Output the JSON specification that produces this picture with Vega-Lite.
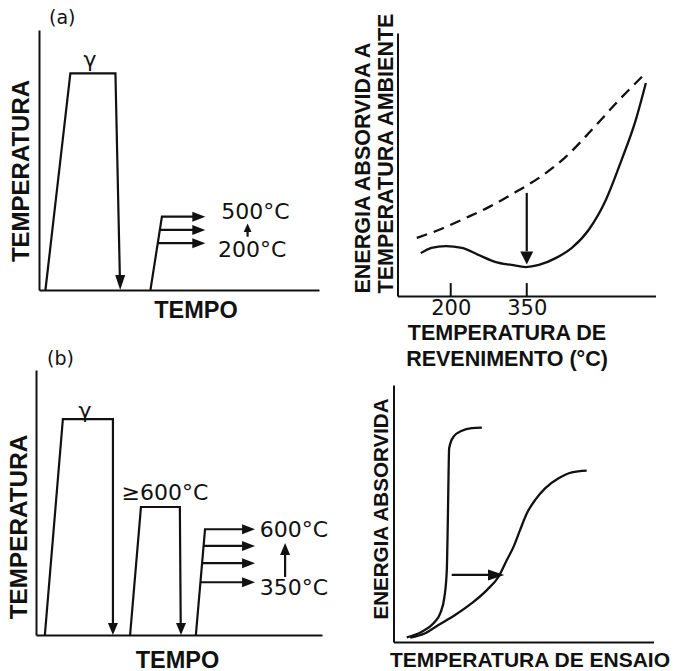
{
  "$schema": "https://vega.github.io/schema/vega-lite/v6.json",
  "background": "white",
  "autosize": {"type": "pad"},
  "padding": {"left": 7, "top": 9, "right": 0, "bottom": 0},
  "columns": 2,
  "spacing": {"row": -36, "column": 23.5},
  "resolve": {"scale": {"x": "independent", "y": "independent", "shape": "independent"}},
  "config": {
    "view": {"stroke": null},
    "axis": {
      "domainColor": "#111", "domainWidth": 2, "ticks": false, "labels": false, "grid": false,
      "titleFont": "Liberation Sans", "titleFontWeight": "bold", "titleColor": "#111"
    },
    "title": {"font": "DejaVu Sans", "fontSize": 19, "fontWeight": "normal", "anchor": "start", "frame": "group", "baseline": "middle", "color": "#111"},
    "text": {"font": "DejaVu Sans", "fontSize": 22, "color": "#111"}
  },
  "concat": [
    {
      "width": 286, "height": 266,
      "title": {"text": "(a)", "dx": 13, "offset": 2},
      "layer": [
        {
          "data": {"values": [
            {"s": "aus", "i": 0, "u": 2.3, "v": 0}, {"s": "aus", "i": 1, "u": 11.2, "v": 83.3},
            {"s": "aus", "i": 2, "u": 27.3, "v": 83.3}, {"s": "aus", "i": 3, "u": 28.9, "v": 4},
            {"s": "rev", "i": 0, "u": 39.8, "v": 0}, {"s": "rev", "i": 1, "u": 43.9, "v": 28.2}, {"s": "rev", "i": 2, "u": 57, "v": 28.2},
            {"s": "r2", "i": 0, "u": 43.2, "v": 23.1}, {"s": "r2", "i": 1, "u": 57, "v": 23.1},
            {"s": "r3", "i": 0, "u": 42.4, "v": 18.0}, {"s": "r3", "i": 1, "u": 57, "v": 18.0},
            {"s": "up", "i": 0, "u": 74.5, "v": 20.5}, {"s": "up", "i": 1, "u": 74.5, "v": 23.5}
          ]},
          "mark": {"type": "line", "color": "#111", "strokeWidth": 2.2},
          "encoding": {
            "x": {"field": "u", "type": "quantitative",
                  "scale": {"domain": [0, 100], "range": [3, 283], "nice": false, "zero": false},
                  "axis": {"title": "TEMPO", "offset": -6, "titleFontSize": 23.5, "titleBaseline": "middle", "titleAlign": "center", "titleX": 159.5, "titleY": 20}},
            "y": {"field": "v", "type": "quantitative",
                  "scale": {"domain": [0, 100], "range": [260, 0], "nice": false, "zero": false},
                  "axis": {"title": "TEMPERATURA", "offset": -3, "titleFontSize": 24, "titleBaseline": "middle", "titleAlign": "center", "titleX": -18, "titleY": 140.5}},
            "detail": {"field": "s"},
            "order": {"field": "i"}
          }
        },
        {
          "data": {"values": [
            {"dir": "down", "u": 29.0, "v": 0},
            {"dir": "right", "u": 59.4, "v": 28.2}, {"dir": "right", "u": 59.4, "v": 23.1}, {"dir": "right", "u": 59.4, "v": 18.0},
            {"dir": "up", "u": 74.5, "v": 25.6}
          ]},
          "mark": {"type": "point", "filled": true, "opacity": 1, "color": "#111", "size": 169},
          "encoding": {
            "x": {"field": "u", "type": "quantitative"},
            "y": {"field": "v", "type": "quantitative"},
            "shape": {"field": "dir", "type": "nominal", "legend": null,
                      "scale": {"domain": ["down", "right", "up"],
                                "range": ["M-0.77,-2.3L0.77,-2.3L0,0Z", "M-2,-0.77L0,0L-2,0.77Z", "M-0.6,1.3L0,0L0.6,1.3Z"]}}
          }
        },
        {
          "data": {"values": [
            {"label": "γ", "u": 18.2, "v": 88.5},
            {"label": "500°C", "u": 77.3, "v": 30.0},
            {"label": "200°C", "u": 76.1, "v": 15.4}
          ]},
          "mark": {"type": "text", "align": "center", "baseline": "middle"},
          "encoding": {
            "x": {"field": "u", "type": "quantitative"},
            "y": {"field": "v", "type": "quantitative"},
            "text": {"field": "label"}
          }
        }
      ]
    },
    {
      "width": 262, "height": 266,
      "layer": [
        {
          "data": {"values": [
            {"t": 133, "e": 22.1}, {"t": 176, "e": 25.1}, {"t": 230, "e": 29.7}, {"t": 275, "e": 33.8},
            {"t": 328, "e": 39.5}, {"t": 374, "e": 44.9}, {"t": 427, "e": 52.9}, {"t": 478, "e": 63.1},
            {"t": 532, "e": 74.5}, {"t": 587, "e": 85.2}
          ]},
          "mark": {"type": "line", "color": "#111", "strokeWidth": 2.3, "strokeDash": [11, 7], "interpolate": "monotone"},
          "encoding": {
            "x": {"field": "t", "type": "quantitative",
                  "scale": {"domain": [95, 604], "range": [4, 262], "nice": false, "zero": false},
                  "axis": {"title": ["TEMPERATURA DE", "REVENIMENTO (°C)"], "values": [200, 350], "format": "d",
                           "labels": true, "labelFont": "DejaVu Sans", "labelFontSize": 21, "labelColor": "#111", "labelPadding": 1,
                           "titleFontSize": 21.5, "titleLineHeight": 26, "titleBaseline": "middle", "titleAlign": "center", "titleX": 113, "titleY": 37}},
            "y": {"field": "e", "type": "quantitative",
                  "scale": {"domain": [0, 100], "range": [266, 3], "nice": false, "zero": false},
                  "axis": {"title": ["ENERGIA ABSORVIDA A", "TEMPERATURA AMBIENTE"], "offset": -4, "titleFontSize": 21.5, "titleLineHeight": 23,
                           "titleBaseline": "middle", "titleAlign": "left", "titleX": -34, "titleY": 263}}
          }
        },
        {
          "data": {"values": [
            {"t": 141, "e": 16.3}, {"t": 162, "e": 18.3}, {"t": 190, "e": 19.0}, {"t": 222, "e": 18.3},
            {"t": 255, "e": 15.6}, {"t": 289, "e": 12.9}, {"t": 320, "e": 11.8}, {"t": 348, "e": 11.0},
            {"t": 374, "e": 11.8}, {"t": 407, "e": 14.4}, {"t": 439, "e": 18.3}, {"t": 472, "e": 25.1},
            {"t": 506, "e": 36.5}, {"t": 537, "e": 51.7}, {"t": 565, "e": 66.9}, {"t": 585, "e": 81.0}
          ]},
          "mark": {"type": "line", "color": "#111", "strokeWidth": 2.3, "interpolate": "monotone"},
          "encoding": {
            "x": {"field": "t", "type": "quantitative"},
            "y": {"field": "e", "type": "quantitative"}
          }
        },
        {
          "data": {"values": [{"t": 200}, {"t": 350}]},
          "mark": {"type": "rule", "color": "#111", "strokeWidth": 2},
          "encoding": {
            "x": {"field": "t", "type": "quantitative"},
            "y": {"datum": 0},
            "y2": {"datum": 4.9}
          }
        },
        {
          "data": {"values": [{"t": 350, "e": 39.2}, {"t": 350, "e": 17}]},
          "mark": {"type": "line", "color": "#111", "strokeWidth": 2.2},
          "encoding": {
            "x": {"field": "t", "type": "quantitative"},
            "y": {"field": "e", "type": "quantitative"}
          }
        },
        {
          "data": {"values": [{"dir": "down", "t": 350, "e": 12}]},
          "mark": {"type": "point", "filled": true, "opacity": 1, "color": "#111", "size": 169},
          "encoding": {
            "x": {"field": "t", "type": "quantitative"},
            "y": {"field": "e", "type": "quantitative"},
            "shape": {"field": "dir", "type": "nominal", "legend": null,
                      "scale": {"domain": ["down"], "range": ["M-1,-2L1,-2L0,0Z"]}}
          }
        }
      ]
    },
    {
      "width": 286, "height": 272,
      "title": {"text": "(b)", "dx": 11, "offset": 1},
      "layer": [
        {
          "data": {"values": [
            {"s": "aus", "i": 0, "u": 3.1, "v": 0}, {"s": "aus", "i": 1, "u": 9.4, "v": 81.5},
            {"s": "aus", "i": 2, "u": 26.9, "v": 81.5}, {"s": "aus", "i": 3, "u": 26.9, "v": 4},
            {"s": "rev", "i": 0, "u": 32.9, "v": 0}, {"s": "rev", "i": 1, "u": 36.7, "v": 48.3},
            {"s": "rev", "i": 2, "u": 50.3, "v": 48.3}, {"s": "rev", "i": 3, "u": 50.6, "v": 4},
            {"s": "t1", "i": 0, "u": 55.9, "v": 0}, {"s": "t1", "i": 1, "u": 59.1, "v": 39.9}, {"s": "t1", "i": 2, "u": 74.5, "v": 39.9},
            {"s": "t2", "i": 0, "u": 58.6, "v": 33.6}, {"s": "t2", "i": 1, "u": 74.5, "v": 33.6},
            {"s": "t3", "i": 0, "u": 58.1, "v": 27.1}, {"s": "t3", "i": 1, "u": 74.5, "v": 27.1},
            {"s": "t4", "i": 0, "u": 57.5, "v": 19.9}, {"s": "t4", "i": 1, "u": 74.5, "v": 19.9},
            {"s": "up", "i": 0, "u": 87.1, "v": 21.9}, {"s": "up", "i": 1, "u": 87.1, "v": 31}
          ]},
          "mark": {"type": "line", "color": "#111", "strokeWidth": 2.2},
          "encoding": {
            "x": {"field": "u", "type": "quantitative",
                  "scale": {"domain": [0, 100], "range": [0, 286], "nice": false, "zero": false},
                  "axis": {"title": "TEMPO", "offset": -7, "titleFontSize": 23.5, "titleBaseline": "middle", "titleAlign": "center", "titleX": 141, "titleY": 25}},
            "y": {"field": "v", "type": "quantitative",
                  "scale": {"domain": [0, 100], "range": [265, 0], "nice": false, "zero": false},
                  "axis": {"title": "TEMPERATURA", "titleFontSize": 24.3, "titleBaseline": "middle", "titleAlign": "center", "titleX": -16.5, "titleY": 156.5}},
            "detail": {"field": "s"},
            "order": {"field": "i"}
          }
        },
        {
          "data": {"values": [
            {"dir": "down", "u": 26.9, "v": 0}, {"dir": "down", "u": 50.7, "v": 0},
            {"dir": "right", "u": 76.6, "v": 39.9}, {"dir": "right", "u": 76.6, "v": 33.6},
            {"dir": "right", "u": 76.6, "v": 27.1}, {"dir": "right", "u": 76.6, "v": 19.9},
            {"dir": "up", "u": 87.1, "v": 34.7}
          ]},
          "mark": {"type": "point", "filled": true, "opacity": 1, "color": "#111", "size": 169},
          "encoding": {
            "x": {"field": "u", "type": "quantitative"},
            "y": {"field": "v", "type": "quantitative"},
            "shape": {"field": "dir", "type": "nominal", "legend": null,
                      "scale": {"domain": ["down", "right", "up"],
                                "range": ["M-0.77,-1.85L0.77,-1.85L0,0Z", "M-2,-0.77L0,0L-2,0.77Z", "M-0.77,1.85L0,0L0.77,1.85Z"]}}
          }
        },
        {
          "data": {"values": [
            {"label": "γ", "u": 17.1, "v": 84.5},
            {"label": "≥600°C", "u": 45.1, "v": 53.6},
            {"label": "600°C", "u": 90.2, "v": 39.6},
            {"label": "350°C", "u": 90.2, "v": 17.7}
          ]},
          "mark": {"type": "text", "align": "center", "baseline": "middle"},
          "encoding": {
            "x": {"field": "u", "type": "quantitative"},
            "y": {"field": "v", "type": "quantitative"},
            "text": {"field": "label"}
          }
        }
      ]
    },
    {
      "width": 262, "height": 272,
      "layer": [
        {
          "data": {"values": [
            {"s": "c1", "u": 5.1, "v": 1.8}, {"s": "c1", "u": 10.9, "v": 4.0}, {"s": "c1", "u": 15.4, "v": 7.3},
            {"s": "c1", "u": 18.0, "v": 11.2}, {"s": "c1", "u": 19.6, "v": 17.6}, {"s": "c1", "u": 20.5, "v": 28.0},
            {"s": "c1", "u": 20.9, "v": 47.5}, {"s": "c1", "u": 21.2, "v": 66.9}, {"s": "c1", "u": 21.4, "v": 75.4},
            {"s": "c1", "u": 23.1, "v": 79.9}, {"s": "c1", "u": 26.3, "v": 82.2}, {"s": "c1", "u": 30.1, "v": 83.2},
            {"s": "c1", "u": 34.0, "v": 83.4},
            {"s": "c2", "u": 6.4, "v": 1.7}, {"s": "c2", "u": 12.2, "v": 3.4}, {"s": "c2", "u": 17.3, "v": 6.6},
            {"s": "c2", "u": 23.7, "v": 10.5}, {"s": "c2", "u": 30.1, "v": 15.1}, {"s": "c2", "u": 35.9, "v": 20.2},
            {"s": "c2", "u": 40.4, "v": 25.4}, {"s": "c2", "u": 43.6, "v": 31.9}, {"s": "c2", "u": 46.2, "v": 37.1},
            {"s": "c2", "u": 48.7, "v": 43.6}, {"s": "c2", "u": 51.3, "v": 50.1}, {"s": "c2", "u": 54.5, "v": 55.3},
            {"s": "c2", "u": 58.3, "v": 59.8}, {"s": "c2", "u": 63.5, "v": 63.7}, {"s": "c2", "u": 68.6, "v": 66.0},
            {"s": "c2", "u": 74.3, "v": 66.7}
          ]},
          "mark": {"type": "line", "color": "#111", "strokeWidth": 2.3, "interpolate": "monotone"},
          "encoding": {
            "x": {"field": "u", "type": "quantitative",
                  "scale": {"domain": [0, 100], "range": [0, 260], "nice": false, "zero": false},
                  "axis": {"title": "TEMPERATURA DE ENSAIO", "titleFontSize": 21, "titleBaseline": "middle", "titleAlign": "center", "titleX": 136, "titleY": 18}},
            "y": {"field": "v", "type": "quantitative",
                  "scale": {"domain": [0, 100], "range": [272, 15], "nice": false, "zero": false},
                  "axis": {"title": "ENERGIA ABSORVIDA", "titleFontSize": 20.6, "titleBaseline": "middle", "titleAlign": "center", "titleX": -12, "titleY": 138.5}},
            "detail": {"field": "s"}
          }
        },
        {
          "data": {"values": [{"u": 22.4, "v": 26.1}, {"u": 38, "v": 26.1}]},
          "mark": {"type": "line", "color": "#111", "strokeWidth": 2.2},
          "encoding": {
            "x": {"field": "u", "type": "quantitative"},
            "y": {"field": "v", "type": "quantitative"}
          }
        },
        {
          "data": {"values": [{"dir": "right", "u": 42.6, "v": 26.1}]},
          "mark": {"type": "point", "filled": true, "opacity": 1, "color": "#111", "size": 169},
          "encoding": {
            "x": {"field": "u", "type": "quantitative"},
            "y": {"field": "v", "type": "quantitative"},
            "shape": {"field": "dir", "type": "nominal", "legend": null,
                      "scale": {"domain": ["right"], "range": ["M-2.5,-0.85L0,0L-2.5,0.85Z"]}}
          }
        }
      ]
    }
  ]
}
